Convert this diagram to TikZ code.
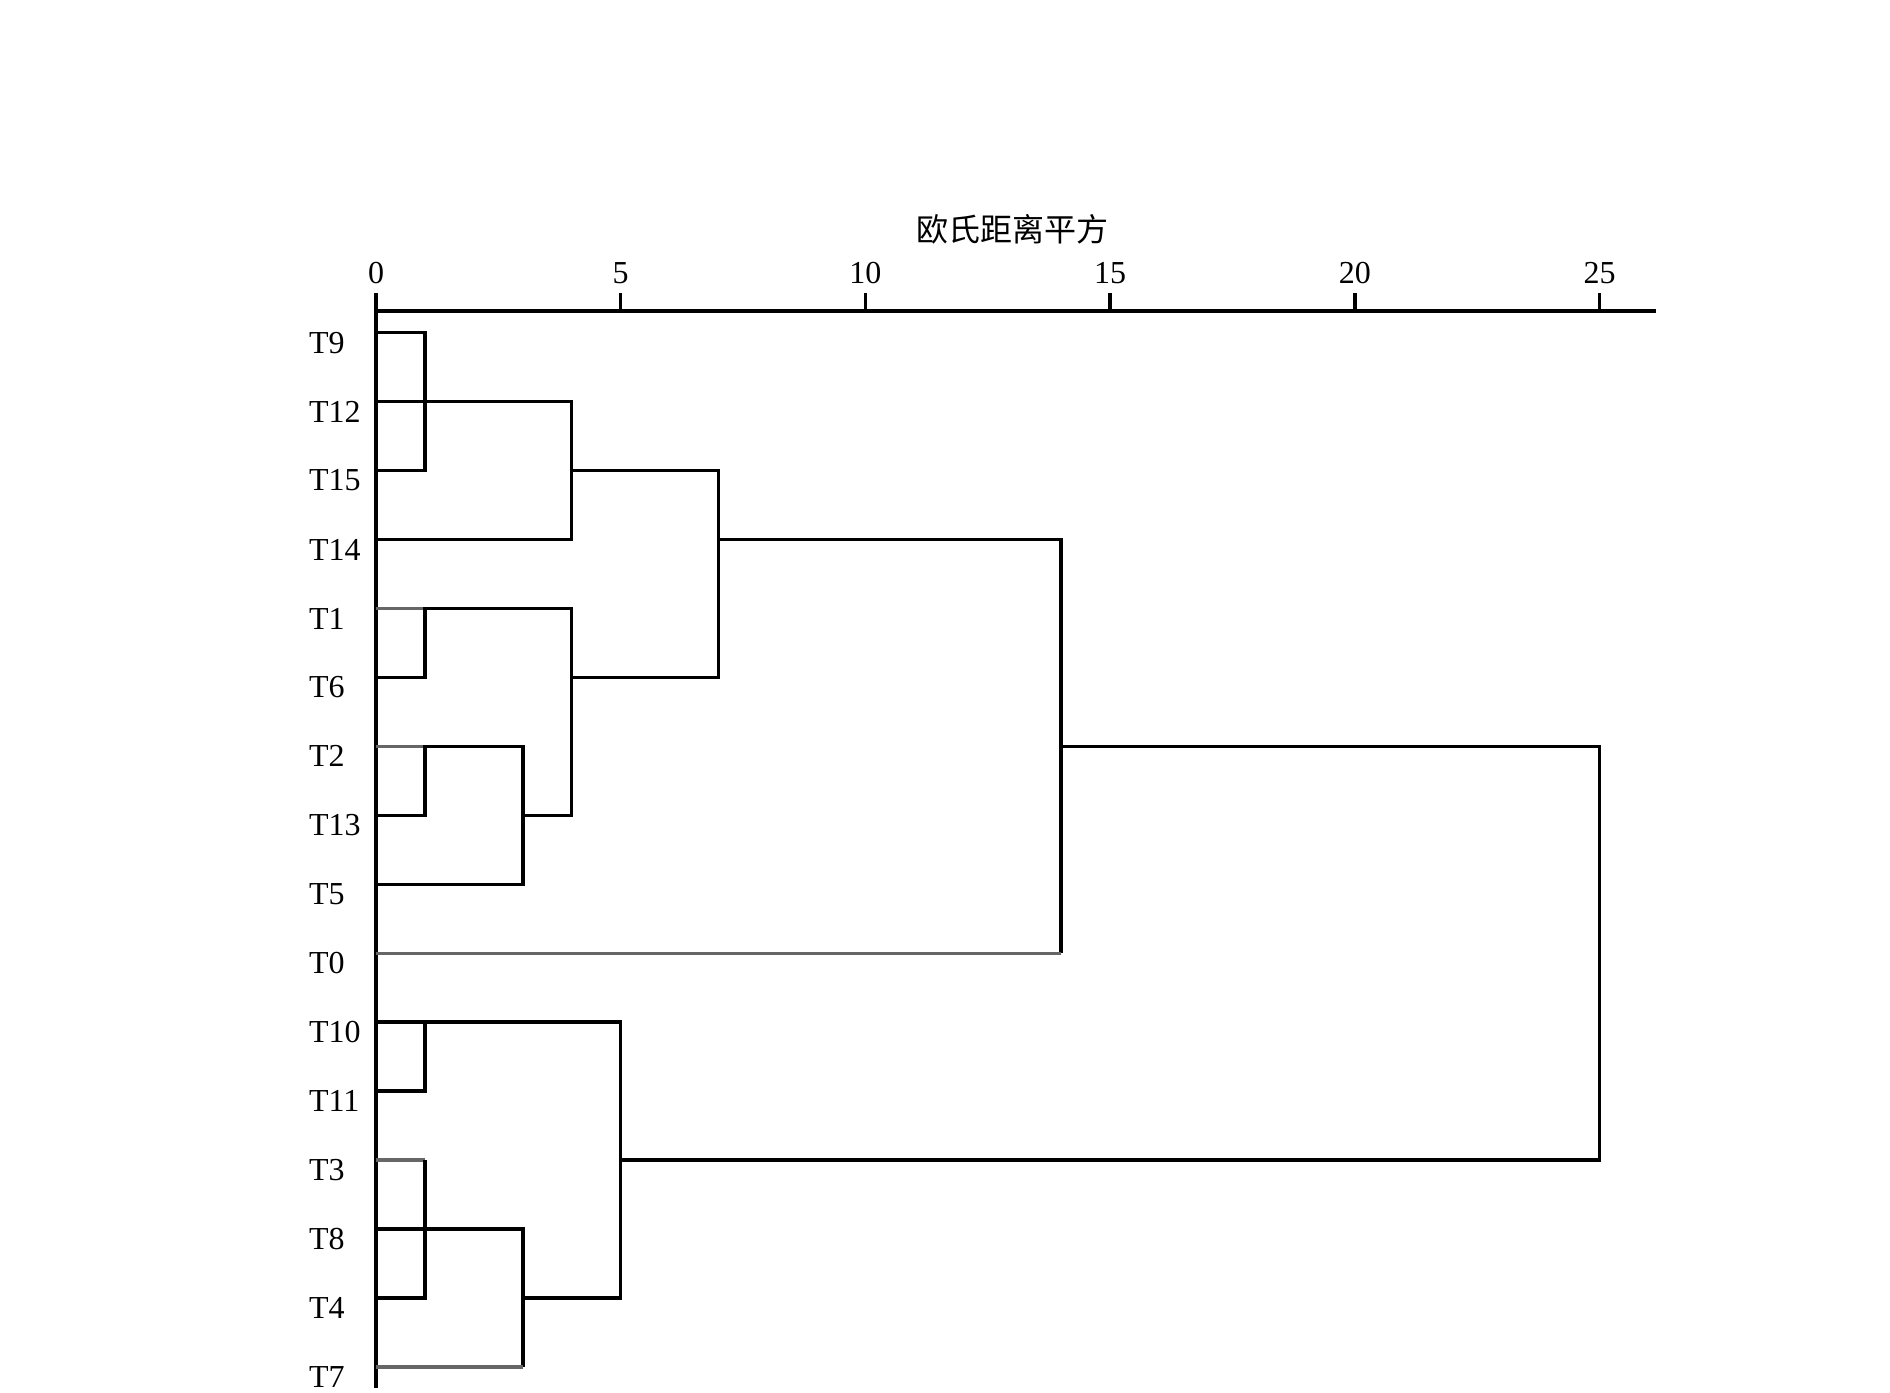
\documentclass[tikz,border=0pt]{standalone}
\usepackage{fontspec}
\setmainfont{Liberation Serif}
\newfontfamily\cjk{Noto Sans CJK SC}
\usepackage{tikz}
\usetikzlibrary{positioning}

\begin{document}
\begin{tikzpicture}[
    x=24.47pt, y=-34.475pt,
    font=\fontsize{16}{19}\selectfont,
    link/.style={draw=#1, line width=1.7pt},
    link/.default=black,
    leaf/.style={anchor=west, inner sep=0pt},
    ticklabel/.style={anchor=base, inner sep=0pt}
]
\useasboundingbox (-7.683,-4.825) rectangle (30.936,15.378);

% Axis
\node (title) at (13,-1.504) {\cjk 欧氏距离平方};
\coordinate (axL) at (0,-0.315);
\coordinate (axR) at (26.15,-0.315);
\draw[link] (axL) -- (axR);
\foreach \d in {0,5,...,25} {
    \coordinate (tk\d) at (\d,-0.315);
    \draw[link] (tk\d) -- ++(0,-0.261);
    \node[ticklabel] (n\d) at (\d,-0.71) {\d};
}
\draw[link, line width=2.1pt] (tk0) -- (0,15.305);

% Leaves
\foreach \name [count=\i from 0] in {T9,T12,T15,T14,T1,T6,T2,T13,T5,T0,T10,T11,T3,T8,T4,T7} {
    \coordinate (\name) at (0,\i);
    \node[leaf] (l\name) at (-1.377,\i+0.145) {\name};
}

% Upper group
\draw[link] (T9) -| (1,2) -- (T15);
\draw[link] (T12) -| (4,3) -- (T14);
\draw[link=black!60] (T1) -- (1,4);
\draw[link] (T6) -| (1,4) -| (4,7) -- (3,7);
\draw[link=black!60] (T2) -- (1,6);
\draw[link] (T13) -| (1,6) -| (3,8) -- (T5);
\coordinate (u1) at (4,2);
\coordinate (u2) at (4,5);
\draw[link] (u1) -| (7,5) -- (u2);
\coordinate (u3) at (7,3);
\draw[link] (u3) -| (14,9);
\draw[link=black!60] (14,9) -- (T0);

% Lower group
\draw[link] (T10) -- (1,10);
\draw[link] (T11) -| (1,10) -| (5,14) -- (3,14);
\draw[link=black!60] (T3) -- (1,12);
\draw[link] (1,12) |- (T4);
\draw[link] (T8) -| (3,15);
\draw[link=black!60] (3,15) -- (T7);

% Root
\coordinate (r1) at (14,6);
\coordinate (r2) at (5,12);
\draw[link] (r1) -| (25,12) -- (r2);

\end{tikzpicture}
\end{document}
